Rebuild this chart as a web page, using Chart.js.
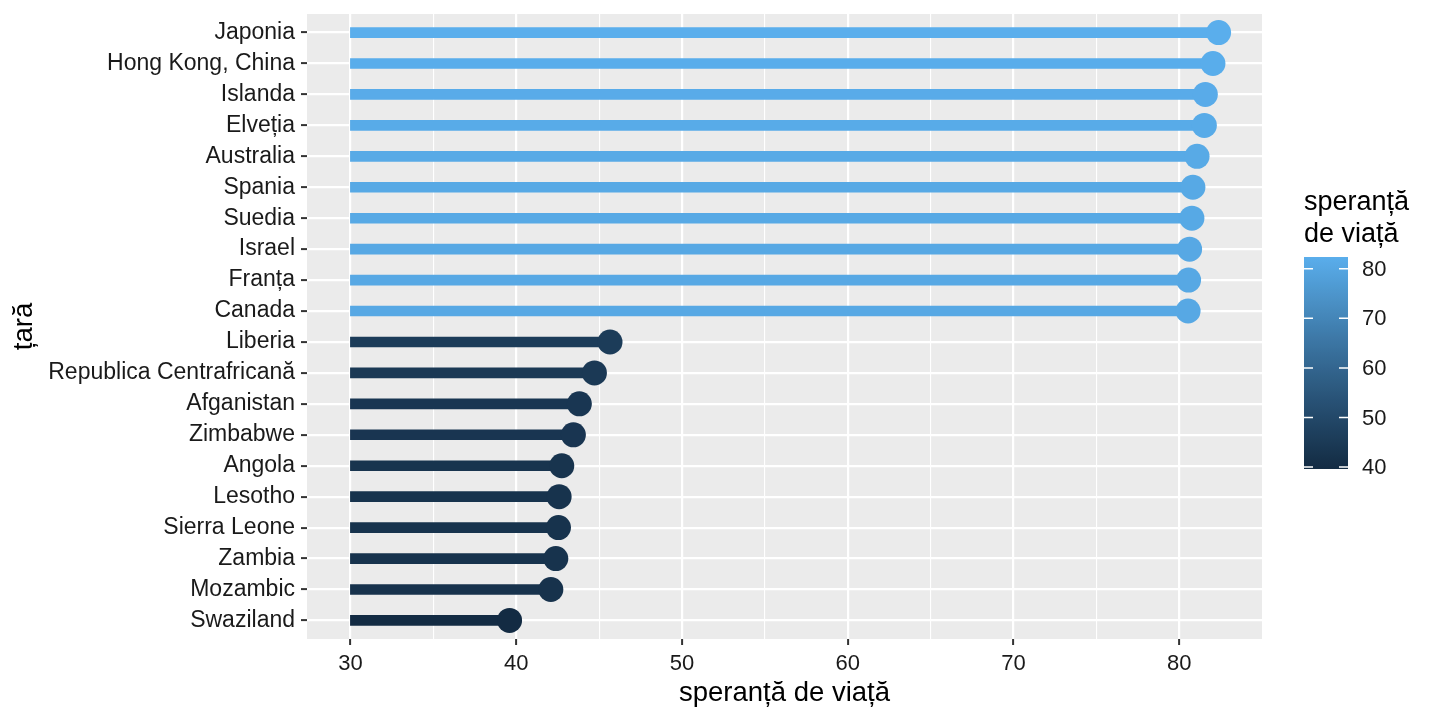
<!DOCTYPE html>
<html>
<head>
<meta charset="utf-8">
<script src="https://cdn.jsdelivr.net/npm/chart.js@4.4.1/dist/chart.umd.min.js"></script>
<style>
    html, body { margin: 0; padding: 0; background: #ffffff; }
    #wrap { width: 1440px; height: 720px; }
</style>
</head>
<body>
<div id="wrap"><canvas id="graph"></canvas></div>
<script>
const countries = [
    "Japonia", "Hong Kong, China", "Islanda", "Elveția", "Australia",
    "Spania", "Suedia", "Israel", "Franța", "Canada",
    "Liberia", "Republica Centrafricană", "Afganistan", "Zimbabwe", "Angola",
    "Lesotho", "Sierra Leone", "Zambia", "Mozambic", "Swaziland",
]
const lifeExp = [
    82.37, 82.03, 81.57, 81.51, 81.07,
    80.82, 80.76, 80.62, 80.56, 80.53,
    45.66, 44.72, 43.81, 43.45, 42.75,
    42.59, 42.55, 42.39, 42.09, 39.6,
]
const stemStart = 30
const majorTicks = [30, 40, 50, 60, 70, 80]
const minorTicks = [35, 45, 55, 65, 75]
const legendTicks = [40, 50, 60, 70, 80]

const lowColor = "#132B43"
const highColor = "#5AAEEC"
const fontFamily = "'Liberation Sans', Arial, sans-serif"
const textColor = "#1a1a1a"

// colour ramp in CIELAB, like ggplot's default continuous scale
const hexToRgb = (hex) => [1, 3, 5].map((i) => parseInt(hex.slice(i, i + 2), 16))
const toLinear = (c) => {
    c /= 255
    return c <= 0.04045 ? c / 12.92 : Math.pow((c + 0.055) / 1.055, 2.4)
}
const fromLinear = (c) => {
    const v = c <= 0.0031308 ? 12.92 * c : 1.055 * Math.pow(c, 1 / 2.4) - 0.055
    return Math.round(Math.min(1, Math.max(0, v)) * 255)
}
const rgbToLab = (rgb) => {
    const [r, g, b] = rgb.map(toLinear)
    const x = (0.4124 * r + 0.3576 * g + 0.1805 * b) / 0.95047
    const y = 0.2126 * r + 0.7152 * g + 0.0722 * b
    const z = (0.0193 * r + 0.1192 * g + 0.9505 * b) / 1.08883
    const f = (t) => (t > 216 / 24389 ? Math.cbrt(t) : ((24389 / 27) * t + 16) / 116)
    const fx = f(x), fy = f(y), fz = f(z)
    return [116 * fy - 16, 500 * (fx - fy), 200 * (fy - fz)]
}
const labToRgb = ([L, a, b]) => {
    const fy = (L + 16) / 116
    const fx = fy + a / 500
    const fz = fy - b / 200
    const inv = (t) => (t * t * t > 216 / 24389 ? t * t * t : (116 * t - 16) / (24389 / 27))
    const x = inv(fx) * 0.95047, y = inv(fy), z = inv(fz) * 1.08883
    const r = 3.2406 * x - 1.5372 * y - 0.4986 * z
    const g = -0.9689 * x + 1.8758 * y + 0.0415 * z
    const bb = 0.0557 * x - 0.204 * y + 1.057 * z
    return [r, g, bb].map(fromLinear)
}

const lowLab = rgbToLab(hexToRgb(lowColor))
const highLab = rgbToLab(hexToRgb(highColor))
const colorMin = Math.min(...lifeExp)
const colorMax = Math.max(...lifeExp)

const colorFor = (v) => {
    const t = (v - colorMin) / (colorMax - colorMin)
    const lab = lowLab.map((l, i) => l + (highLab[i] - l) * t)
    const [r, g, b] = labToRgb(lab)
    return `rgb(${r},${g},${b})`
}

const colors = lifeExp.map(colorFor)

const dataMax = Math.max(...lifeExp)
const span = dataMax - stemStart
const xMin = stemStart - span * 0.05
const xMax = dataMax + span * 0.05

const panelBackground = {
    id: "panelBackground",
    beforeDraw(chart) {
        const { ctx, chartArea: a } = chart
        ctx.save()
        ctx.fillStyle = "#ffffff"
        ctx.fillRect(0, 0, chart.width, chart.height)
        ctx.fillStyle = "#EBEBEB"
        ctx.fillRect(a.left, a.top, a.right - a.left, a.bottom - a.top)
        ctx.restore()
    },
}

const colorbarLegend = {
    id: "colorbarLegend",
    afterDraw(chart) {
        const ctx = chart.ctx
        const left = 1304
        const width = 44
        const top = 257
        const bottom = 469

        ctx.save()
        ctx.fillStyle = "#000000"
        ctx.font = `27px ${fontFamily}`
        ctx.textAlign = "left"
        ctx.textBaseline = "alphabetic"
        ctx.fillText("speranță", left, 210)
        ctx.fillText("de viață", left, 242)

        const gradient = ctx.createLinearGradient(0, bottom, 0, top)
        const steps = 40
        for (let i = 0; i <= steps; i++) {
            const t = i / steps
            gradient.addColorStop(t, colorFor(colorMin + t * (colorMax - colorMin)))
        }
        ctx.fillStyle = gradient
        ctx.fillRect(left, top, width, bottom - top)

        ctx.strokeStyle = "#ffffff"
        ctx.lineWidth = 1.5
        ctx.fillStyle = textColor
        ctx.font = `22px ${fontFamily}`
        ctx.textBaseline = "middle"
        for (let tick of legendTicks) {
            const y = bottom - ((tick - colorMin) / (colorMax - colorMin)) * (bottom - top)
            ctx.beginPath()
            ctx.moveTo(left, y)
            ctx.lineTo(left + 9, y)
            ctx.moveTo(left + width - 9, y)
            ctx.lineTo(left + width, y)
            ctx.stroke()
            ctx.fillText(String(tick), left + 58, y + 1)
        }
        ctx.restore()
    },
}

const config = {
    type: "bar",
    data: {
        datasets: [
            {
                type: "scatter",
                data: lifeExp.map((v, i) => ({ x: v, y: i })),
                pointRadius: 12.5,
                pointHoverRadius: 12.5,
                pointBorderWidth: 0,
                pointBackgroundColor: colors,
                pointBorderColor: colors,
            },
            {
                type: "bar",
                indexAxis: "y",
                data: lifeExp.map((v, i) => ({ x: [stemStart, v], y: i })),
                backgroundColor: colors,
                borderWidth: 0,
                borderSkipped: false,
                barThickness: 10,
            },
        ],
    },
    options: {
        indexAxis: "y",
        responsive: true,
        maintainAspectRatio: false,
        animation: false,
        events: [],
        layout: {
            padding: { top: 14, right: 178, bottom: 0, left: 0 },
        },
        plugins: {
            legend: { display: false },
            tooltip: { enabled: false },
        },
        scales: {
            x: {
                type: "linear",
                position: "bottom",
                offset: false,
                min: xMin,
                max: xMax,
                afterBuildTicks: (scale) => {
                    scale.ticks = [...majorTicks, ...minorTicks]
                        .sort((a, b) => a - b)
                        .map((value) => ({ value }))
                },
                afterFit: (scale) => {
                    scale.height = 81
                    scale.paddingLeft = 0
                    scale.paddingRight = 0
                },
                border: { display: false },
                grid: {
                    offset: false,
                    color: "#ffffff",
                    lineWidth: (ctx) => (majorTicks.includes(ctx.tick.value) ? 2.2 : 1.1),
                    drawTicks: true,
                    tickLength: 6,
                    tickWidth: 2,
                    tickColor: (ctx) =>
                        majorTicks.includes(ctx.tick.value) ? "#333333" : "rgba(0,0,0,0)",
                },
                ticks: {
                    autoSkip: false,
                    maxRotation: 0,
                    padding: 6,
                    color: textColor,
                    font: { family: fontFamily, size: 22 },
                    callback: (value) => (majorTicks.includes(value) ? String(value) : ""),
                },
                title: {
                    display: true,
                    text: "speranță de viață",
                    color: "#000000",
                    font: { family: fontFamily, size: 27.5 },
                    padding: { top: 0, bottom: 10 },
                },
            },
            y: {
                type: "linear",
                position: "left",
                reverse: true,
                offset: false,
                min: -0.6,
                max: countries.length - 0.4,
                afterBuildTicks: (scale) => {
                    scale.ticks = countries.map((c, i) => ({ value: i }))
                },
                afterFit: (scale) => {
                    scale.width = 307
                    scale.paddingTop = 0
                    scale.paddingBottom = 0
                },
                border: { display: false },
                grid: {
                    offset: false,
                    color: "#ffffff",
                    lineWidth: 2.2,
                    drawTicks: true,
                    tickLength: 6,
                    tickWidth: 2,
                    tickColor: "#333333",
                },
                ticks: {
                    autoSkip: false,
                    padding: 6,
                    color: textColor,
                    font: { family: fontFamily, size: 23 },
                    callback: (value) => countries[value],
                },
                title: {
                    display: true,
                    text: "țară",
                    color: "#000000",
                    font: { family: fontFamily, size: 27.5 },
                    padding: { top: 8, bottom: 0 },
                },
            },
        },
    },
    plugins: [panelBackground, colorbarLegend],
}

const chart = new Chart(document.getElementById("graph"), config)
</script>
</body>
</html>
